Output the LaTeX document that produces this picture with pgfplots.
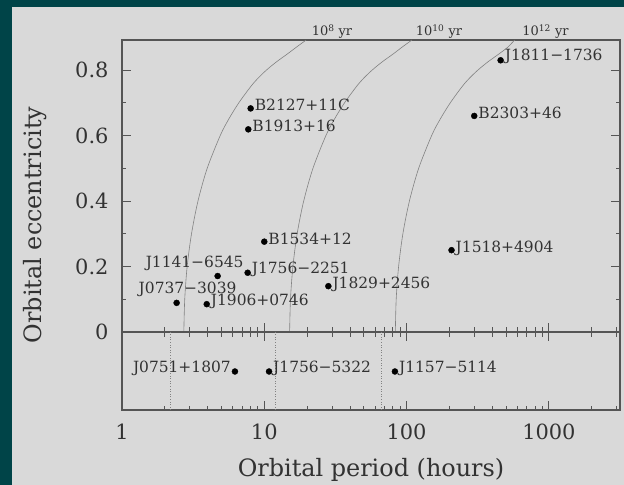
\documentclass[border=0pt]{standalone}
\usepackage{fontspec}
\setmainfont{DejaVu Serif}
\usepackage{pgfplots}
\pgfplotsset{compat=1.18}
\definecolor{teal0}{RGB}{0,68,72}
\definecolor{panel}{RGB}{217,217,217}
\definecolor{axgray}{RGB}{85,85,85}
\definecolor{txt}{RGB}{50,50,50}
\definecolor{crv}{RGB}{130,130,130}
\tikzset{mylab/.style={font=\fontsize{15.5}{15.5}\selectfont, text=txt, inner sep=0pt}}
\begin{document}
\begin{tikzpicture}
\path[use as bounding box] (0bp,0bp) rectangle (624bp,485bp);
\fill[teal0] (0bp,0bp) rectangle (624bp,485bp);
\fill[panel] (12bp,0bp) rectangle (624bp,478bp);

% upper panel
\begin{axis}[
  xmode=log,
  scale only axis, width=498bp, height=292bp,
  at={(122bp,153bp)}, anchor=south west,
  xmin=1, xmax=3162, ymin=0, ymax=0.892,
  clip mode=individual,
  axis line style={axgray, line width=1.1bp},
  tick style={axgray, line width=0.8bp},
  tick align=inside,
  major tick length=9bp, minor tick length=4.5bp,
  xtick={1,10,100,1000},
  xtick pos=bottom, xticklabels={},
  extra x ticks={2,3,4,5,6,7,8,9,20,30,40,50,60,70,80,90,200,300,400,500,600,700,800,900,2000,3000},
  extra x tick labels={},
  extra x tick style={major tick length=4.5bp},
  ytick={0,0.2,0.4,0.6,0.8}, yticklabels={0,0.2,0.4,0.6,0.8},
  minor ytick={0.1,0.3,0.5,0.7},
  ytick pos=both, yticklabel pos=left,
  yticklabel style={font=\fontsize{21}{21}\selectfont, text=txt, xshift=-10bp},
]
\addplot[crv, line width=0.6bp, smooth] coordinates {
(2.72,0) (2.76,0.1) (2.87,0.2) (3.08,0.3) (3.42,0.4) (3.97,0.5) (4.90,0.6) (5.62,0.65) (6.62,0.7) (8.04,0.75) (9.02,0.775) (10.35,0.8) (12.16,0.825) (14.6,0.85) (16.8,0.87) (19.7,0.892)};
\addplot[crv, line width=0.6bp, smooth] coordinates {
(15.07,0) (15.28,0.1) (15.89,0.2) (17.02,0.3) (18.92,0.4) (21.98,0.5) (27.10,0.6) (31.1,0.65) (36.64,0.7) (44.46,0.75) (49.9,0.775) (57.28,0.8) (67.3,0.825) (80.91,0.85) (92.9,0.87) (109.1,0.892)};
\addplot[crv, line width=0.6bp, smooth] coordinates {
(83.37,0) (84.53,0.1) (87.90,0.2) (94.19,0.3) (104.7,0.4) (121.6,0.5) (150.0,0.6) (172.2,0.65) (202.8,0.7) (246.0,0.75) (276.1,0.775) (316.9,0.8) (372.4,0.825) (447.7,0.85) (514,0.87) (575,0.892)};

\addplot[only marks, mark=*, mark size=3bp, black] coordinates {
(458,0.830) (299,0.660) (8.02,0.683) (7.72,0.619) (10.0,0.276) (7.64,0.181)
(4.70,0.171) (2.42,0.089) (3.94,0.085) (28.2,0.140) (207,0.250)};

\node[mylab, anchor=west, xshift=4bp, yshift=4bp] at (axis cs:458,0.830) {J1811−1736};
\node[mylab, anchor=west, xshift=4bp, yshift=3bp] at (axis cs:299,0.660) {B2303+46};
\node[mylab, anchor=west, xshift=4bp, yshift=4bp] at (axis cs:8.02,0.683) {B2127+11C};
\node[mylab, anchor=west, xshift=4bp, yshift=3bp] at (axis cs:7.72,0.619) {B1913+16};
\node[mylab, anchor=west, xshift=4bp, yshift=3bp] at (axis cs:10.0,0.276) {B1534+12};
\node[mylab, anchor=west, xshift=4bp, yshift=3bp] at (axis cs:7.64,0.181) {J1756−2251};
\node[mylab, anchor=south, xshift=-23bp, yshift=5bp] at (axis cs:4.70,0.171) {J1141−6545};
\node[mylab, anchor=south, xshift=11bp, yshift=6bp] at (axis cs:2.42,0.089) {J0737−3039};
\node[mylab, anchor=west, xshift=4bp, yshift=3bp] at (axis cs:3.94,0.085) {J1906+0746};
\node[mylab, anchor=west, xshift=4bp, yshift=2bp] at (axis cs:28.2,0.140) {J1829+2456};
\node[mylab, anchor=west, xshift=4bp, yshift=2bp] at (axis cs:207,0.250) {J1518+4904};

\node[mylab, font=\fontsize{13}{13}\selectfont, anchor=base west, yshift=4bp] at (axis cs:21.5,0.892) {10\textsuperscript{8} yr};
\node[mylab, font=\fontsize{13}{13}\selectfont, anchor=base west, yshift=4bp] at (axis cs:116,0.892) {10\textsuperscript{10} yr};
\node[mylab, font=\fontsize{13}{13}\selectfont, anchor=base west, yshift=4bp] at (axis cs:650,0.892) {10\textsuperscript{12} yr};
\end{axis}

% lower panel
\begin{axis}[
  xmode=log,
  scale only axis, width=498bp, height=78bp,
  at={(122bp,75bp)}, anchor=south west,
  xmin=1, xmax=3162, ymin=-0.239, ymax=0,
  clip mode=individual,
  axis line style={axgray, line width=1.1bp},
  tick style={axgray, line width=0.8bp},
  tick align=inside,
  major tick length=9bp, minor tick length=4.5bp,
  ytick=\empty,
  xtick={1,10,100,1000},
  xtick pos=both, xticklabel pos=bottom,
  xticklabels={1,10,100,1000},
  xticklabel style={font=\fontsize{21}{21}\selectfont, text=txt, yshift=-10bp},
  extra x ticks={2,3,4,5,6,7,8,9,20,30,40,50,60,70,80,90,200,300,400,500,600,700,800,900,2000,3000},
  extra x tick labels={},
  extra x tick style={major tick length=4.5bp},
]
\addplot[crv, line width=0.6bp, dotted] coordinates {(2.17,-0.239) (2.17,0)};
\addplot[crv, line width=0.6bp, dotted] coordinates {(12.0,-0.239) (12.0,0)};
\addplot[crv, line width=0.6bp, dotted] coordinates {(66.1,-0.239) (66.1,0)};
\addplot[only marks, mark=*, mark size=3bp, black] coordinates {
(6.22,-0.121) (10.8,-0.121) (82.8,-0.121)};
\node[mylab, anchor=east, xshift=-4bp, yshift=3bp] at (axis cs:6.22,-0.121) {J0751+1807};
\node[mylab, anchor=west, xshift=4bp, yshift=3bp] at (axis cs:10.8,-0.121) {J1756−5322};
\node[mylab, anchor=west, xshift=4bp, yshift=3bp] at (axis cs:82.8,-0.121) {J1157−5114};
\end{axis}

\node[font=\fontsize{24}{24}\selectfont, text=txt, anchor=base] at (371bp,9bp) {Orbital period (hours)};
\node[font=\fontsize{24}{24}\selectfont, text=txt, rotate=90, anchor=center] at (35bp,260bp) {Orbital eccentricity};
\end{tikzpicture}
\end{document}
